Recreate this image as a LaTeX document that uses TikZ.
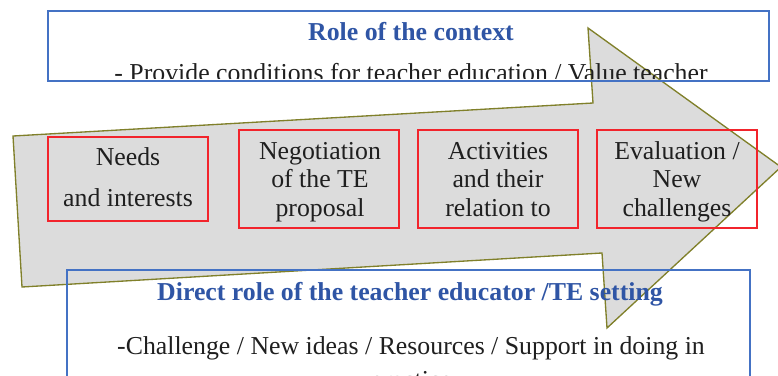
\documentclass[tikz,border=0pt]{standalone}
\usepackage{fontspec}
\setmainfont{Liberation Serif}
\definecolor{tblue}{HTML}{2F55A5}
\definecolor{bblue}{HTML}{4472C4}
\definecolor{olivel}{HTML}{80802A}
\definecolor{agrey}{HTML}{DCDCDC}
\definecolor{rbox}{HTML}{F2242C}
\newcommand{\pxu}{0.75pt}
\begin{document}
\begin{tikzpicture}[x=0.75pt,y=-0.75pt,
  txt/.style={inner sep=0, anchor=base, text=black!88,
    font=\fontsize{19.35}{21.5}\selectfont},
  ttl/.style={inner sep=0, anchor=base, text=tblue,
    font=\fontsize{19.35}{21.5}\selectfont\bfseries},
  redbox/.style={draw=rbox, line width=1.3pt, inner sep=0, minimum width=160*\pxu},
  bluebox/.style={draw=bblue, line width=1.1pt, inner sep=0},
  arrowshape/.style={fill=agrey, draw=olivel, line width=1pt, line join=miter}]
\useasboundingbox (0,0) rectangle (778,375);
\clip (0,0) rectangle (778,375);
% big arrow
\coordinate (A) at (13,136);
\coordinate (B) at (593,103);
\coordinate (C) at (588,28);
\coordinate (D) at (781,167);
\coordinate (E) at (607,328);
\coordinate (F) at (602,253);
\coordinate (G) at (22,287);
\draw[arrowshape] (A) -- (B) -- (C) -- (D) -- (E) -- (F) -- (G) -- cycle;
% red boxes
\node[redbox, minimum height=84*\pxu] (b1) at (128,179) {};
\node[redbox, minimum height=98*\pxu] (b2) at (319,179) {};
\node[redbox, minimum height=98*\pxu] (b3) at (498,179) {};
\node[redbox, minimum height=98*\pxu] (b4) at (677,179) {};
\node[txt] (t1) at (128,165.7) {\def\arraystretch{1.43}\setlength{\tabcolsep}{0pt}\begin{tabular}[t]{c}Needs\\and interests\end{tabular}};
\node[txt] (t2) at (320,159.3) {\setlength{\tabcolsep}{0pt}\begin{tabular}[t]{c}Negotiation\\of the TE\\proposal\end{tabular}};
\node[txt] (t3) at (498,159.3) {\setlength{\tabcolsep}{0pt}\begin{tabular}[t]{c}Activities\\and their\\relation to\end{tabular}};
\node[txt] (t4) at (677,159.3) {\setlength{\tabcolsep}{0pt}\begin{tabular}[t]{c}Evaluation /\\New\\challenges\end{tabular}};
% top box
\node[bluebox, minimum width=721*\pxu, minimum height=70*\pxu] (top) at (408.5,46) {};
\coordinate (clipbot) at (769,78);
\node[ttl] (toptitle) at (411,40) {Role of the context};
\begin{scope}
\clip (top.north west) rectangle (clipbot);
\node[txt] (topbody) at (411,81) {- Provide conditions for teacher education / Value teacher};
\end{scope}
% bottom box
\node[bluebox, minimum width=683*\pxu, minimum height=140*\pxu] (bot) at (408.5,340) {};
\node[ttl] (bottitle) at (410,300) {Direct role of the teacher educator /TE setting};
\node[txt] (botbody) at (411,354.3) {-Challenge / New ideas / Resources / Support in doing in};
\node[txt] (botbody2) at (411,388) {practice};
\end{tikzpicture}
\end{document}
